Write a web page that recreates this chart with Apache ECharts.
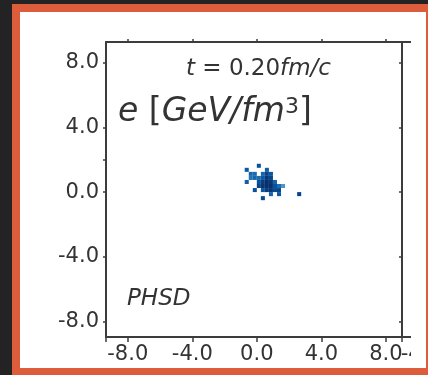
<!DOCTYPE html>
<html>
<head>
<meta charset="utf-8">
<script src="https://cdn.jsdelivr.net/npm/echarts@6/dist/echarts.min.js"></script>
<style>
  html, body { margin: 0; padding: 0; background: #232323; width: 428px; height: 375px; overflow: hidden; }
  #frame { position: absolute; left: 12px; top: 4px; width: 416px; height: 371px; background: #dc5c3b; }
  #paper { position: absolute; left: 8px; top: 8px; width: 406px; height: 356px; background: #ffffff; }
  #chart { position: absolute; left: 0; top: 0; width: 391px; height: 356px; overflow: hidden; }
</style>
</head>
<body>
<div id="frame"><div id="paper"><div id="chart"></div></div></div>
<script>
// Energy density cells at t = 0.20 fm/c (cell centres in fm, e in GeV/fm^3)
const cellX = [
  -0.625, 0.125, -0.625, -0.375, -0.125, -0.125, -0.375, -0.125, 0.375, 2.625,
  0.625,
  0.375, 0.625, 0.875,
  0.125, 0.375, 0.625, 0.875,
  0.125, 0.375, 0.625, 0.875, 1.125,
  0.125, 0.375, 0.625, 0.875, 1.125, 1.375, 1.625,
  0.375, 0.625, 0.875, 1.125, 1.375,
  0.875, 1.375
];
const cellY = [
  1.375, 1.625, 0.625, 1.125, 1.125, 0.875, 0.875, 0.125, -0.375, -0.125,
  1.375,
  1.125, 1.125, 1.125,
  0.875, 0.875, 0.875, 0.875,
  0.625, 0.625, 0.625, 0.625, 0.625,
  0.375, 0.375, 0.375, 0.375, 0.375, 0.375, 0.375,
  0.125, 0.125, 0.125, 0.125, 0.125,
  -0.125, -0.125
];
const cellE = [
  14, 15, 13, 12, 11, 12, 10, 15, 16, 17,
  13,
  12, 17, 14,
  11, 14, 19, 17,
  15, 18, 20, 19, 12,
  17, 19, 20, 20, 15, 11, 7,
  14, 18, 19, 16, 17,
  12, 14
];
const CELL = 0.25;

const xTicks = [-8, -4, 0, 4, 8];
const yTicks = [-8, -4, 0, 4, 8];
const xMin = -9.35, xMax = 9.0;
const yMin = -8.95, yMax = 9.27;
// neighbouring panel to the right (only its edge is visible)
const nbMin = -8.75, nbMax = 9.6;

const cells = cellX.map((x, i) => [x, cellY[i], cellE[i]]);

const txt = '#333333';
const axisCol = '#3c3c3c';
const fontFam = 'DejaVu Sans';
const lblSize = 21;

const frameLine = { show: true, onZero: false, lineStyle: { color: axisCol, width: 2 } };
const fmt = v => v.toFixed(1);

const chart = echarts.init(document.getElementById('chart'), null, { renderer: 'canvas' });

chart.setOption({
  animation: false,
  backgroundColor: 'transparent',
  grid: [
    { left: 86, top: 30, width: 296, height: 295 },
    { left: 382, top: 30, width: 296, height: 295 }
  ],
  xAxis: [
    {
      gridIndex: 0, type: 'value', position: 'bottom', min: xMin, max: xMax,
      splitLine: { show: false }, axisLine: frameLine,
      axisTick: { show: true, inside: false, length: 5, customValues: [xMin, -8, -4, 0, 4, 8, xMax], lineStyle: { color: axisCol, width: 1.5 } },
      axisLabel: { customValues: xTicks, margin: 7, color: txt, fontSize: lblSize, fontFamily: fontFam, formatter: fmt }
    },
    {
      gridIndex: 0, type: 'value', position: 'top', min: xMin, max: xMax,
      splitLine: { show: false }, axisLine: frameLine,
      axisTick: { show: true, inside: false, length: 3, customValues: xTicks, lineStyle: { color: axisCol, width: 1.5 } },
      axisLabel: { show: false }
    },
    {
      gridIndex: 1, type: 'value', position: 'bottom', min: nbMin, max: nbMax,
      splitLine: { show: false }, axisLine: frameLine,
      axisTick: { show: true, inside: false, length: 5, customValues: xTicks, lineStyle: { color: axisCol, width: 1.5 } },
      axisLabel: { customValues: xTicks, margin: 7, color: txt, fontSize: lblSize, fontFamily: fontFam, formatter: fmt }
    },
    {
      gridIndex: 1, type: 'value', position: 'top', min: nbMin, max: nbMax,
      splitLine: { show: false }, axisLine: frameLine,
      axisTick: { show: false }, axisLabel: { show: false }
    }
  ],
  yAxis: [
    {
      gridIndex: 0, type: 'value', position: 'left', min: yMin, max: yMax,
      splitLine: { show: false }, axisLine: frameLine,
      axisTick: { show: true, inside: false, length: 3, customValues: [-8, -4, 0, 2, 4, 8], lineStyle: { color: axisCol, width: 1.5 } },
      axisLabel: { customValues: yTicks, margin: 7, color: txt, fontSize: lblSize, fontFamily: fontFam, formatter: fmt }
    },
    {
      gridIndex: 0, type: 'value', position: 'right', min: yMin, max: yMax,
      splitLine: { show: false }, axisLine: frameLine,
      axisTick: { show: true, inside: true, length: 3, customValues: yTicks, lineStyle: { color: axisCol, width: 1.5 } },
      axisLabel: { show: false }
    },
    {
      gridIndex: 1, type: 'value', position: 'left', min: yMin, max: yMax, show: false
    }
  ],
  visualMap: {
    show: false, type: 'continuous', seriesIndex: 0, dimension: 2, min: 0, max: 20,
    inRange: { color: ['#c6dbef', '#6baed6', '#2171b5', '#08519c', '#08306b'] }
  },
  graphic: [
    {
      type: 'text', left: 166, top: 46, z: 10,
      style: {
        text: '{i|t} = 0.20{i|fm/c}',
        fill: txt, font: '23px "DejaVu Sans"',
        rich: { i: { fontStyle: 'italic', fontSize: 23, fontFamily: fontFam, fill: txt } }
      }
    },
    {
      type: 'text', left: 98, top: 84, z: 10,
      style: {
        text: '{i|e} [{i|GeV/fm}{s|3}]',
        fill: txt, font: '33px "DejaVu Sans"',
        rich: {
          i: { fontStyle: 'italic', fontSize: 33, fontFamily: fontFam, fill: txt, verticalAlign: 'bottom' },
          s: { fontSize: 22, fontFamily: fontFam, fill: txt, verticalAlign: 'top' }
        }
      }
    },
    {
      type: 'text', left: 107, top: 276, z: 10,
      style: { text: 'PHSD', fill: txt, font: 'italic 23px "DejaVu Sans"' }
    }
  ],
  series: [
    {
      type: 'custom',
      xAxisIndex: 0, yAxisIndex: 0,
      data: cells,
      encode: { x: 0, y: 1 },
      renderItem: function (params, api) {
        const x = api.value(0), y = api.value(1);
        const p0 = api.coord([x - CELL / 2, y + CELL / 2]);
        const p1 = api.coord([x + CELL / 2, y - CELL / 2]);
        return {
          type: 'rect',
          shape: { x: p0[0], y: p0[1], width: p1[0] - p0[0], height: p1[1] - p0[1] },
          style: { fill: api.visual('color') }
        };
      }
    }
  ]
});
</script>
</body>
</html>
